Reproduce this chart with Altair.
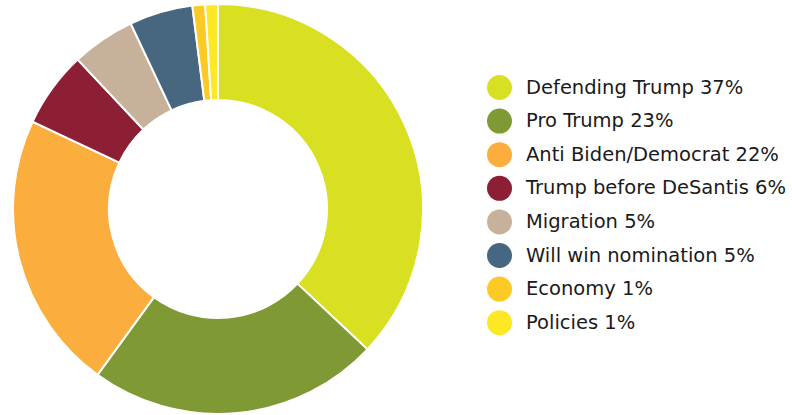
import altair as alt
import pandas as pd

categories = ["Defending Trump", "Pro Trump", "Anti Biden/Democrat", "Trump before DeSantis",
              "Migration", "Will win nomination", "Economy", "Policies"]
values = [37, 23, 22, 6, 5, 5, 1, 1]
colors = ["#d9e021", "#7f9a35", "#fbae3d", "#8c1f33", "#c8b19a", "#46677f", "#fdc925", "#fce824"]

labels = [f"{c} {v}%" for c, v in zip(categories, values)]
df = pd.DataFrame({"label": labels, "value": values, "order": list(range(len(values)))})

chart = alt.Chart(df).mark_arc(
    outerRadius=205, innerRadius=109, stroke="white", strokeWidth=2
).encode(
    theta=alt.Theta("value:Q", stack=True),
    order=alt.Order("order:Q"),
    x=alt.value(218),
    y=alt.value(209),
    color=alt.Color(
        "label:N",
        sort=labels,
        scale=alt.Scale(domain=labels, range=colors),
        legend=alt.Legend(
            title=None, orient="none", legendX=487, legendY=75,
            symbolType="circle", symbolSize=625, symbolStrokeWidth=0,
            labelFontSize=19.5, labelFont="DejaVu Sans", labelColor="#1a1a1a",
            labelOffset=14, rowPadding=8.6, labelLimit=400,
        ),
    ),
).properties(width=792, height=415, padding=0, autosize="none").configure_view(stroke=None)

chart.save("out.html", embed_options={"renderer": "svg", "actions": False})
